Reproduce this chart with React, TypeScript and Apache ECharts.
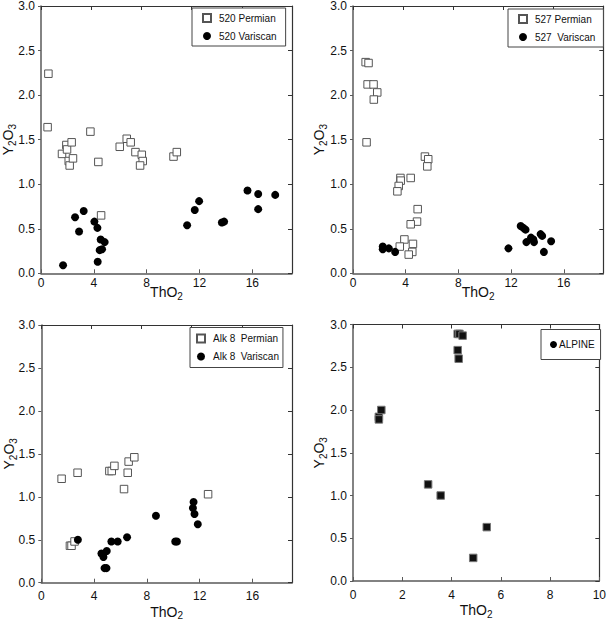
import React, { useEffect, useRef } from "react";
import * as echarts from "echarts";

const FONT = "'Liberation Sans', Arial, Helvetica, sans-serif";

// ---- Data: [ThO2, Y2O3] ----
const permian520: [number, number][] = [
  [0.56, 2.24], [0.5, 1.64], [1.59, 1.34], [1.92, 1.44], [1.97, 1.39], [2.32, 1.47],
  [2.1, 1.26], [2.17, 1.21], [2.42, 1.29], [3.74, 1.59], [4.34, 1.25], [4.55, 0.65],
  [5.96, 1.42], [6.49, 1.51], [6.79, 1.47], [7.15, 1.36], [7.63, 1.33], [7.7, 1.26],
  [7.5, 1.21], [10.03, 1.31], [10.28, 1.36],
];
const variscan520: [number, number][] = [
  [1.67, 0.09], [2.58, 0.63], [2.88, 0.47], [3.23, 0.7], [4.04, 0.58], [4.27, 0.51],
  [4.29, 0.13], [4.52, 0.38], [4.82, 0.35], [4.44, 0.26], [4.62, 0.27], [11.06, 0.54],
  [11.64, 0.71], [11.97, 0.81], [13.69, 0.57], [13.86, 0.58], [15.63, 0.93], [16.44, 0.89],
  [16.44, 0.72], [17.73, 0.88],
];
const permian527: [number, number][] = [
  [0.96, 2.37], [1.18, 2.36], [1.11, 2.12], [1.56, 2.12], [1.84, 2.03], [1.58, 1.95],
  [1.03, 1.47], [5.46, 1.31], [5.71, 1.28], [5.64, 1.2], [3.6, 1.07], [3.62, 1.04],
  [4.38, 1.07], [3.47, 0.98], [3.37, 0.92], [4.91, 0.72], [4.86, 0.58], [4.38, 0.55],
  [3.9, 0.38], [3.55, 0.3], [4.55, 0.33], [4.5, 0.24], [4.23, 0.21],
];
const variscan527: [number, number][] = [
  [2.26, 0.3], [2.26, 0.27], [2.72, 0.28], [3.2, 0.24], [11.8, 0.28], [12.73, 0.53],
  [12.93, 0.51], [13.1, 0.49], [13.16, 0.35], [13.51, 0.4], [13.69, 0.38], [13.74, 0.35],
  [14.24, 0.44], [14.36, 0.42], [14.49, 0.24], [15.04, 0.36],
];
const permianAlk8: [number, number][] = [
  [1.54, 1.21], [2.75, 1.28], [2.17, 0.43], [2.29, 0.43], [2.52, 0.48], [5.16, 1.3],
  [5.34, 1.3], [5.54, 1.36], [6.27, 1.09], [6.55, 1.28], [6.62, 1.41], [7.05, 1.46],
  [12.64, 1.03],
];
const variscanAlk8: [number, number][] = [
  [2.77, 0.5], [4.56, 0.34], [4.71, 0.3], [4.96, 0.37], [4.79, 0.17], [4.94, 0.17],
  [5.31, 0.48], [5.79, 0.48], [6.5, 0.53], [8.69, 0.78], [10.15, 0.48], [10.28, 0.48],
  [11.54, 0.94], [11.49, 0.87], [11.61, 0.8], [11.86, 0.68],
];
const alpine: [number, number][] = [
  [1.05, 1.92], [1.05, 1.89], [1.15, 2.0], [3.05, 1.13], [3.56, 1.0], [4.25, 2.89],
  [4.32, 2.89], [4.45, 2.87], [4.25, 2.7], [4.29, 2.6], [4.88, 0.27], [5.43, 0.63],
];

const xMaxes = [19, 19, 19, 10];
const xIntervals = [4, 4, 4, 2];

const grids = [
  { left: 40.5, top: 3.5, width: 251.5, height: 269.8 },
  { left: 353, top: 5, width: 250.3, height: 268.3 },
  { left: 41.3, top: 325, width: 250.7, height: 257.7 },
  { left: 353, top: 324.5, width: 250, height: 256.5 },
];
// per-panel spacing of x tick labels and x-axis title
const xLabelMargins = [4, 4, 7, 8];
const xNameGaps = [10, 10, 20, 20];
const yNameGaps = [24, 25, 23, 25];

const textBase = { fontFamily: FONT, color: "#111" };

function buildOption() {
  const xAxis: any[] = [];
  const yAxis: any[] = [];
  for (let i = 0; i < 4; i++) {
    const xMax = xMaxes[i];
    const xInt = xIntervals[i];
    xAxis.push({
      gridIndex: i,
      type: "value",
      min: 0,
      max: xMax,
      interval: xInt,
      position: "bottom",
      axisLine: { show: true, onZero: false, lineStyle: { color: "#5a5a5a", width: 1.5 } },
      axisTick: { show: true, inside: true, length: 4, lineStyle: { color: "#5a5a5a" } },
      axisLabel: {
        margin: xLabelMargins[i],
        fontSize: 12,
        ...textBase,
        showMaxLabel: xMax % xInt === 0,
        formatter: (v: number) => (v % xInt === 0 ? String(v) : ""),
      },
      splitLine: { show: false },
      name: "{a|ThO}{b|2}",
      nameLocation: "middle",
      nameGap: xNameGaps[i],
      nameMoveOverlap: false,
      nameTextStyle: {
        ...textBase,
        rich: {
          a: { ...textBase, fontSize: 14, lineHeight: 18 },
          b: { ...textBase, fontSize: 10, lineHeight: 10, verticalAlign: "bottom" },
        },
      },
    });
    yAxis.push({
      gridIndex: i,
      type: "value",
      min: 0,
      max: 3,
      interval: 0.5,
      position: "left",
      axisLine: { show: true, onZero: false, lineStyle: { color: "#5a5a5a", width: 1.5 } },
      axisTick: { show: true, inside: false, length: 3, lineStyle: { color: "#5a5a5a" } },
      axisLabel: {
        margin: 6,
        fontSize: 12,
        ...textBase,
        formatter: (v: number) => v.toFixed(1),
      },
      splitLine: { show: false },
      name: "{a|Y}{b|2}{a|O}{b|3}",
      nameLocation: "middle",
      nameRotate: 90,
      nameGap: yNameGaps[i],
      nameMoveOverlap: false,
      nameTextStyle: {
        ...textBase,
        rich: {
          a: { ...textBase, fontSize: 14, lineHeight: 18 },
          b: { ...textBase, fontSize: 10, lineHeight: 10, verticalAlign: "bottom" },
        },
      },
    });
  }
  // frame: top & right axes with inward ticks, no labels
  for (let i = 0; i < 4; i++) {
    xAxis.push({
      gridIndex: i,
      type: "value",
      min: 0,
      max: 5,
      interval: 1,
      position: "top",
      axisLine: { show: true, onZero: false, lineStyle: { color: "#333", width: 1 } },
      axisTick: { show: true, inside: true, length: 4, lineStyle: { color: "#333" } },
      axisLabel: { show: false },
      splitLine: { show: false },
    });
    yAxis.push({
      gridIndex: i,
      type: "value",
      min: 0,
      max: 3,
      interval: 0.5,
      position: "right",
      axisLine: { show: true, onZero: false, lineStyle: { color: "#333", width: 1.2 } },
      axisTick: { show: true, inside: true, length: 4, lineStyle: { color: "#333" } },
      axisLabel: { show: false },
      splitLine: { show: false },
    });
  }

  const square = (name: string, data: [number, number][], idx: number) => ({
    type: "scatter",
    name,
    xAxisIndex: idx,
    yAxisIndex: idx,
    data,
    symbol: "rect",
    symbolSize: 7.5,
    itemStyle: { color: "#fff", borderColor: "#555", borderWidth: 1, opacity: 1 },
    emphasis: { disabled: true },
  });
  const dot = (name: string, data: [number, number][], idx: number) => ({
    type: "scatter",
    name,
    xAxisIndex: idx,
    yAxisIndex: idx,
    data,
    symbol: "circle",
    symbolSize: 8,
    itemStyle: { color: "#000", opacity: 1 },
    emphasis: { disabled: true },
  });

  const series = [
    square("520 Permian", permian520, 0),
    dot("520 Variscan", variscan520, 0),
    square("527 Permian", permian527, 1),
    dot("527  Variscan", variscan527, 1),
    square("Alk 8  Permian", permianAlk8, 2),
    dot("Alk 8  Variscan", variscanAlk8, 2),
    {
      type: "scatter",
      name: "ALPINE",
      xAxisIndex: 3,
      yAxisIndex: 3,
      data: alpine,
      symbol: "rect",
      symbolSize: 7.5,
      itemStyle: { color: "#111", borderColor: "#777", borderWidth: 1, opacity: 1 },
      emphasis: { disabled: true },
    },
  ];

  const legendBase = {
    orient: "vertical",
    itemWidth: 8,
    itemHeight: 8,
    itemGap: 8,
    borderColor: "#444",
    borderWidth: 1,
    backgroundColor: "#fff",
    selectedMode: false,
    textStyle: { ...textBase, fontSize: 10, lineHeight: 10, padding: [0, 0, 0, 3] },
  };

  const legend = [
    {
      ...legendBase,
      data: [
        { name: "520 Permian", icon: "rect" },
        { name: "520 Variscan", icon: "circle" },
      ],
      left: 192,
      top: 8,
      padding: [5, 9, 5, 10],
    },
    {
      ...legendBase,
      data: [
        { name: "527 Permian", icon: "rect" },
        { name: "527  Variscan", icon: "circle" },
      ],
      left: 508,
      top: 9,
      padding: [5, 8, 5, 10],
    },
    {
      ...legendBase,
      data: [
        { name: "Alk 8  Permian", icon: "rect" },
        { name: "Alk 8  Variscan", icon: "circle" },
      ],
      left: 190,
      top: 327.5,
      padding: [6, 4, 6, 6],
    },
    {
      ...legendBase,
      itemWidth: 7,
      itemHeight: 7,
      data: [
        {
          name: "ALPINE",
          icon: "circle",
          itemStyle: { color: "#000", borderColor: "#000", borderWidth: 0 },
        },
      ],
      left: 541,
      top: 329.5,
      padding: [10, 6, 10, 9],
      textStyle: { ...textBase, fontSize: 10, lineHeight: 10, padding: [0, 0, 0, -3] },
    },
  ];

  return {
    animation: false,
    backgroundColor: "#fff",
    grid: grids.map((g) => ({ ...g, containLabel: false })),
    xAxis,
    yAxis,
    legend,
    series,
    tooltip: { show: false },
  };
}

export default function App() {
  const ref = useRef<HTMLDivElement>(null);
  useEffect(() => {
    if (!ref.current) return;
    const chart = echarts.init(ref.current, undefined, { renderer: "svg" });
    chart.setOption(buildOption() as any);
    return () => chart.dispose();
  }, []);
  return (
    <div
      ref={ref}
      style={{ position: "absolute", left: 0, top: 0, width: 609, height: 622, background: "#fff" }}
    />
  );
}
